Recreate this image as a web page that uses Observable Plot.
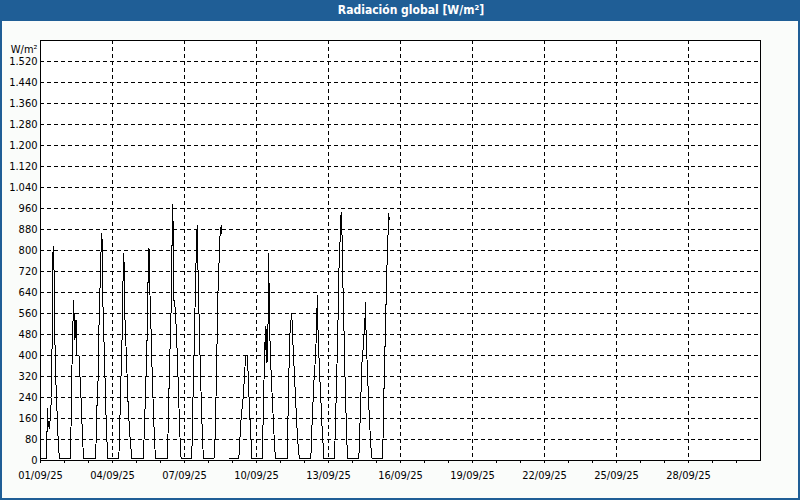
<!DOCTYPE html>
<html><head><meta charset="utf-8">
<script src="https://cdn.jsdelivr.net/npm/d3@7"></script>
<script src="https://cdn.jsdelivr.net/npm/@observablehq/plot@0.6"></script>
<style>
html,body{margin:0;padding:0;background:#fafcfa;}
#win{position:relative;width:800px;height:500px;overflow:hidden;background:#fafcfa;font-family:"DejaVu Sans Condensed","DejaVu Sans",sans-serif;}
#title{height:21px;background:#1f5e96;color:#fff;font-weight:bold;font-size:12px;line-height:21px;text-align:center;padding-left:22px;box-sizing:border-box;font-family:"DejaVu Sans Condensed","DejaVu Sans",sans-serif;}
#border{position:absolute;left:0;top:0;width:800px;height:500px;box-sizing:border-box;border:2px solid #1f5e96;border-top:none;pointer-events:none}
#chart svg{display:block}
</style></head><body>
<div id="win"><div id="title">Radiación global [W/m²]</div><div id="chart"></div><div id="border"></div></div>
<script>
// [hour of day (UTC), W/m²] per day of September 2025
const day01 = [[0,6],[6,6],[6.5,110],[6.8,200],[7.2,110],[8,150],[9,120],[10,180],[11,240],[11.7,490],[12.3,790],[13,800],[13.3,815],[13.6,690],[14.3,480],[15,340],[16,240],[17,140],[18,50],[19,6]];
const day02 = [[6,6],[7,240],[8,480],[9.3,610],[9.7,460],[10.3,560],[11,470],[11.7,535],[12,400],[14.5,400],[15.5,320],[16.5,240],[17.5,140],[18.5,50],[19.3,6]];
const day03 = [[7,6],[8,120],[8.7,240],[9.7,315],[10.3,480],[11.3,645],[12,680],[12.7,836],[13,865],[13.7,836],[14,670],[14.7,556],[16,391],[17,240],[18,112],[19,30],[19.3,6]];
const day04 = [[6.3,6],[7,100],[8,240],[9,400],[9.7,480],[10.3,640],[10.7,720],[11.3,790],[11.7,730],[12.3,556],[13,480],[14,391],[15.3,240],[16.7,137],[18,61],[19.5,6]];
const day05 = [[7,6],[8,150],[9,240],[10,391],[10.7,480],[11.3,660],[12,720],[12.5,810],[13,700],[14,560],[14.7,480],[15.7,330],[17,180],[18,80],[19,6]];
const day06 = [[6.7,6],[7.5,100],[8.3,240],[9.3,400],[10,480],[11,640],[11.7,880],[12,940],[12.3,975],[12.7,860],[13,610],[13.3,650],[13.6,590],[14,610],[15,560],[16,480],[17,380],[18,260],[19,140],[20,40],[20.7,6]];
const day07 = [[7.3,6],[8,160],[9,320],[10,480],[10.7,620],[11.3,720],[12,830],[12.7,894],[13,820],[14,640],[15,480],[16,330],[17,200],[18,80],[19,6]];
const day08 = [[5.5,6],[6.5,80],[7,166],[8,318],[8.7,484],[9.3,624],[10.3,726],[11.3,850],[12.3,880],[12.7,894],[13,865],[13.3,878],[13.4,null],[21,6]];
const day09 = [[6.3,6],[7.3,76],[8.7,166],[10.7,242],[12,318],[13,395],[14,400],[14.7,400],[15.3,360],[16.3,264],[17.3,166],[18,134],[19,30],[19.5,6]];
const day10 = [[5.7,6],[6.7,166],[8,395],[9,509],[9.5,420],[10,500],[10.5,370],[11,460],[11.7,540],[12,680],[12.3,790],[12.6,560],[13,675],[13.3,480],[14,395],[15,300],[16,220],[17,140],[18,60],[19,6]];
const day11 = [[6.7,6],[7.7,203],[8.3,317],[9.3,471],[10,522],[11.3,560],[12,480],[13,400],[14,320],[15,240],[16,160],[17,90],[18,40],[19,6]];
const day12 = [[6.3,6],[7.7,153],[9.3,293],[11,395],[12.3,522],[12.7,630],[13.3,522],[14.3,408],[15.3,318],[16.7,203],[17.7,115],[19,38],[19.5,6]];
const day13 = [[6,6],[7,140],[8,293],[9.3,484],[10.3,713],[11.3,802],[12,904],[12.7,945],[13,917],[13.7,840],[14.3,700],[15,560],[15.7,470],[16.5,320],[17.3,210],[18,110],[18.7,40],[19.3,6]];
const day14 = [[6.3,6],[7,80],[8,200],[9,320],[9.7,395],[10.5,420],[11.5,480],[12.3,540],[12.7,500],[13,601],[13.3,520],[14,440],[15,330],[16,240],[17,150],[18,80],[19,20],[19.7,6]];
const day15 = [[5.7,6],[6.5,80],[7.3,240],[8.3,400],[9.3,560],[10.3,720],[11,800],[11.7,880],[12.3,942],[12.5,930],[12.7,917]];

const days = [day01,day02,day03,day04,day05,day06,day07,day08,day09,day10,day11,day12,day13,day14,day15];
const yTicks = [0,80,160,240,320,400,480,560,640,720,800,880,960,1040,1120,1200,1280,1360,1440,1520];
const labelDays = [1,4,7,10,13,16,19,22,25,28];
const yUnit = "W/m²";

const dayStart = d => Date.UTC(2025, 8, d);
const rows = [];
days.forEach((arr, i) => arr.forEach(([h, v]) => rows.push({t: new Date(dayStart(i + 1) + h * 3600e3), v})));
const labelDates = labelDays.map(d => new Date(dayStart(d)));
const domainX = [new Date(dayStart(1)), new Date(Date.UTC(2025, 9, 1))];
const dailyTicks = d3.utcDay.range(domainX[0], domainX[1]);

const loc = d3.formatLocale({decimal: ",", thousands: ".", grouping: [3], currency: ["", ""]});
const fmtY = loc.format(",");
const fmtX = d3.utcFormat("%d/%m/%y");

const chart = Plot.plot({
  width: 800, height: 479,
  marginTop: 19, marginBottom: 40, marginLeft: 40, marginRight: 40,
  style: {fontFamily: '"DejaVu Sans Condensed","DejaVu Sans",sans-serif', fontSize: "11px", color: "#000", background: "transparent", overflow: "visible"},
  x: {type: "utc", domain: domainX},
  y: {domain: [0, 1600]},
  marks: [
    Plot.frame({fill: "white", stroke: null}),
    Plot.gridY(yTicks.filter(v => v > 0), {stroke: "black", strokeOpacity: 1, strokeDasharray: "4,3", shapeRendering: "crispEdges"}),
    Plot.gridX(labelDates, {stroke: "black", strokeOpacity: 1, strokeDasharray: "4,3", shapeRendering: "crispEdges"}),
    Plot.line(rows, {x: "t", y: "v", stroke: "black", strokeWidth: 1, shapeRendering: "crispEdges"}),
    Plot.axisX(dailyTicks, {tickSize: 3, tickFormat: () => "", label: null, shapeRendering: "crispEdges"}),
    Plot.axisX(labelDates, {tickSize: 3, tickPadding: 8, tickFormat: fmtX, label: null, shapeRendering: "crispEdges"}),
    Plot.axisY(yTicks, {tickSize: 0, tickPadding: 3, tickFormat: fmtY, label: null}),
    Plot.frame({stroke: "black", strokeOpacity: 1, shapeRendering: "crispEdges"}),
    Plot.text([yUnit], {frameAnchor: "top-left", dx: -3, dy: 5, textAnchor: "end", text: d => d})
  ]
});
document.getElementById("chart").appendChild(chart);
</script>
</body></html>
